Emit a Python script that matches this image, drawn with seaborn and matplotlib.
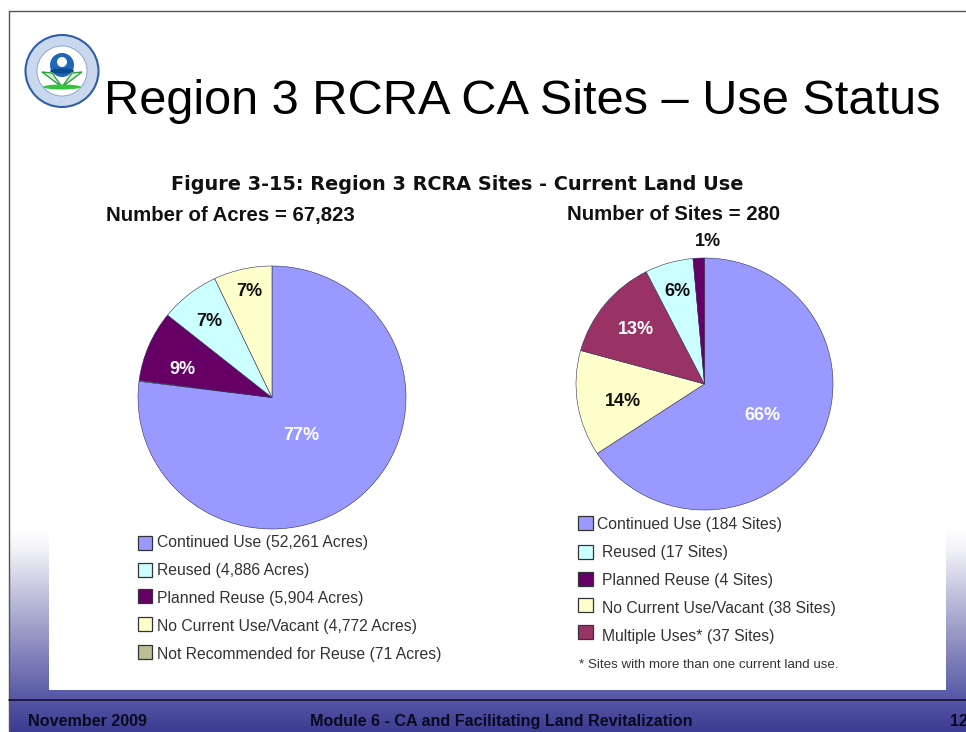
import numpy as np
import matplotlib
matplotlib.use("Agg")
import matplotlib.pyplot as plt
from matplotlib.patches import Rectangle, Circle, Ellipse, Polygon
from matplotlib.colors import LinearSegmentedColormap
import seaborn as sns

# ---- data ----
acre_labels = ["Continued Use", "Not Recommended for Reuse", "Planned Reuse", "Reused", "No Current Use/Vacant"]
acre_values = [52261, 71, 5904, 4886, 4772]
acre_colors = ["#9999FF", "#BDBD96", "#660066", "#CCFFFF", "#FFFFCC"]
site_labels = ["Continued Use", "No Current Use/Vacant", "Multiple Uses", "Reused", "Planned Reuse"]
site_values = [184, 38, 37, 17, 4]
site_colors = ["#9999FF", "#FFFFCC", "#993366", "#CCFFFF", "#660066"]

acre_legend = ["Continued Use (52,261 Acres)", "Reused (4,886 Acres)", "Planned Reuse (5,904 Acres)",
               "No Current Use/Vacant (4,772 Acres)", "Not Recommended for Reuse (71 Acres)"]
acre_legend_colors = ["#9999FF", "#CCFFFF", "#660066", "#FFFFCC", "#BDBD96"]
site_legend = ["Continued Use (184 Sites)", "Reused (17 Sites)", "Planned Reuse (4 Sites)",
               "No Current Use/Vacant (38 Sites)", "Multiple Uses* (37 Sites)"]
site_legend_colors = ["#9999FF", "#CCFFFF", "#660066", "#FFFFCC", "#993366"]

acre_pct = ["77%", "9%", "7%", "7%"]
site_pct = ["66%", "14%", "13%", "6%", "1%"]

W, H = 966, 732
sns.set_theme(style="white")
plt.rcParams["font.family"] = ["Liberation Sans", "DejaVu Sans"]
fig = plt.figure(figsize=(W / 100, H / 100), dpi=100, facecolor="white")

# canvas in pixel coordinates
bg = fig.add_axes([0, 0, 1, 1])
bg.set_xlim(0, W); bg.set_ylim(H, 0); bg.axis("off")

cmap = LinearSegmentedColormap.from_list("slide", [(0, "#FFFFFF"), (0.12, "#F4F4F9"), (0.55, "#A8A8CF"), (1, "#5D5FA9")])
grad = np.linspace(0, 1, 256).reshape(-1, 1)
bg.imshow(grad, extent=[9, W, 692, 528], cmap=cmap, aspect="auto", zorder=0)
cmap2 = LinearSegmentedColormap.from_list("foot", ["#5D5FA9", "#3B3B92"])
bg.imshow(grad, extent=[9, W, H, 690], cmap=cmap2, aspect="auto", zorder=0)
bg.set_xlim(0, W); bg.set_ylim(H, 0)
bg.add_patch(Rectangle((49, 150), 897, 540, fc="white", ec="none", zorder=1))
bg.plot([8.5, 8.5, W], [H, 10.5, 10.5], color="#555555", lw=1, zorder=3)
bg.plot([9, W], [699.5, 699.5], color="#101030", lw=1.2, zorder=3)

# logo
lx, ly = 62, 71
bg.add_patch(Ellipse((lx, ly), 73, 72, fc="#C9D8EC", ec="#2F5FA8", lw=1.5, zorder=2))
bg.add_patch(Ellipse((lx, ly), 50, 50, fc="white", ec="#7E9CCB", lw=0.6, zorder=2))
bg.add_patch(Circle((lx, 65), 12, fc="#1E66B8", ec="none", zorder=3))
bg.add_patch(Circle((lx, 62), 5, fc="white", ec="none", zorder=3))
bg.add_patch(Ellipse((lx, 71), 24, 5, fc="#0B4A8F", ec="none", zorder=3))
bg.add_patch(Polygon([(lx, 87), (42, 72), (52, 73)], fc="#D8F2D8", ec="#2FA03F", lw=1, zorder=3))
bg.add_patch(Polygon([(lx, 87), (82, 72), (72, 73)], fc="#D8F2D8", ec="#2FA03F", lw=1, zorder=3))
bg.add_patch(Ellipse((lx, 87), 38, 5, fc="#35C23F", ec="none", zorder=3))

# text
bg.text(104, 102, "Region 3 RCRA CA Sites \u2013 Use Status", fontsize=35.1, color="black", va="center", ha="left", zorder=4)
bg.text(457.5, 184, "Figure 3-15: Region 3 RCRA Sites - Current Land Use", fontsize=13.9, fontweight="bold",
        family="DejaVu Sans", color="#111111", ha="center", va="center", zorder=4)
bg.text(106, 215, "Number of Acres = 67,823", fontsize=14.7, fontweight="bold", color="#111111", va="center", zorder=4)
bg.text(567, 215, "Number of Sites = 280", fontsize=14.7, fontweight="bold", color="#111111", va="center", zorder=4)


def pie(values, colors, cx, cy, rx, ry):
    ax = fig.add_axes([(cx - rx) / W, 1 - (cy + ry) / H, 2 * rx / W, 2 * ry / H])
    ax.patch.set_alpha(0)
    ax.pie(values, colors=colors, startangle=90, counterclock=False, radius=1,
           wedgeprops=dict(edgecolor="#30305A", linewidth=0.4))
    ax.set_aspect("auto")
    ax.set_xlim(-1, 1); ax.set_ylim(-1, 1)
    ax.axis("off")
    return ax


pie(acre_values, acre_colors, 272, 397.5, 134, 131.5)
pie(site_values, site_colors, 704.5, 384, 128.5, 126)

# overlay for labels above pies
ov = fig.add_axes([0, 0, 1, 1])
ov.patch.set_alpha(0)
ov.set_xlim(0, W); ov.set_ylim(H, 0); ov.axis("off")

lab = dict(fontsize=13, fontweight="bold", ha="center", va="center")
for s, (x, y), c in zip(acre_pct, [(301, 435), (182, 369), (209, 322), (249, 291)],
                        ["white", "white", "#111111", "#111111"]):
    ov.text(x, y, s, color=c, **lab)
for s, (x, y), c in zip(site_pct, [(762, 416), (623, 402), (636, 329), (677, 292), (708, 242)],
                        ["white", "#111111", "white", "#111111", "#111111"]):
    ov.text(x, y, s, color=c, **lab)

# legends
for c, y in zip(acre_legend_colors, [536, 563, 589, 617, 645]):
    ov.add_patch(Rectangle((137.5, y), 14.5, 14, fc=c, ec="#333333", lw=0.9))
for s, y in zip(acre_legend, [542, 570, 598, 626, 654]):
    ov.text(157, y, s, fontsize=11.3, color="#333333", va="center")
for c, y in zip(site_legend_colors, [515.5, 545, 572, 598, 625]):
    ov.add_patch(Rectangle((578, y), 14.5, 14, fc=c, ec="#333333", lw=0.9))
for s, x, y in zip(site_legend, [597, 602, 602, 602, 602], [524, 553, 581, 609, 637]):
    ov.text(x, y, s, fontsize=11.3, color="#333333", va="center")
ov.text(579, 665, "* Sites with more than one current land use.", fontsize=9.6, color="#333333", va="center")

# footer
foot = dict(fontsize=11.6, fontweight="bold", color="#0A0A1E", va="center")
ov.text(28, 721.5, "November 2009", **foot)
ov.text(310, 721.5, "Module 6 - CA and Facilitating Land Revitalization", **foot)
ov.text(950, 721.5, "12", **foot)

fig.savefig("out.png", dpi=100, facecolor="white")
